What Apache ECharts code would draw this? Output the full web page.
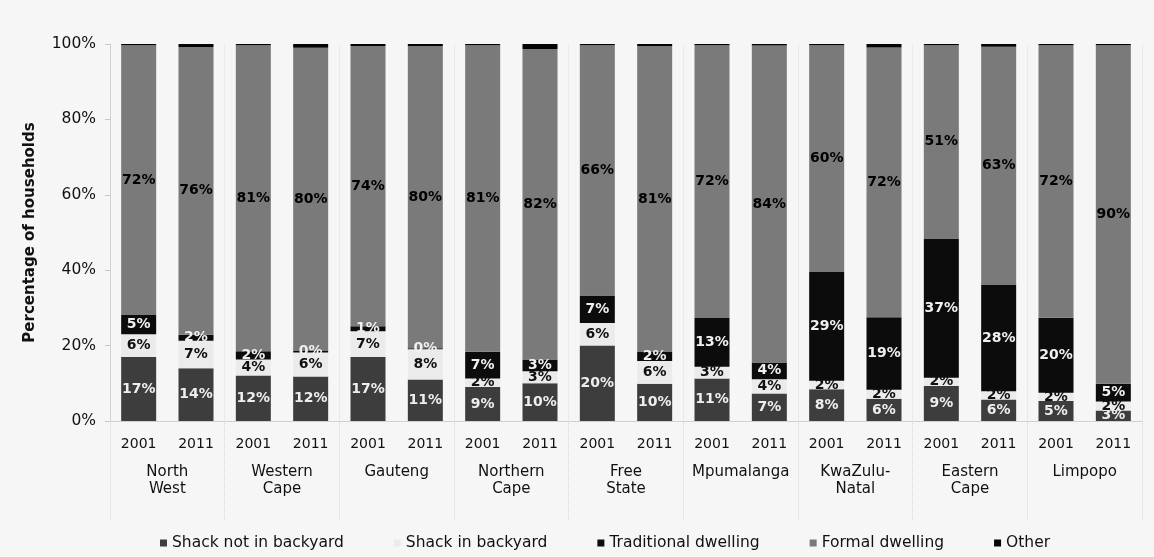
<!DOCTYPE html>
<html>
<head>
<meta charset="utf-8">
<script src="https://cdn.jsdelivr.net/npm/echarts@6/dist/echarts.min.js"></script>
<style>
html,body{margin:0;padding:0;background:#f6f6f6;}
#chart{width:1154px;height:557px;}
</style>
</head>
<body>
<div id="chart"></div>
<script>
var years = ['2001','2011','2001','2011','2001','2011','2001','2011','2001','2011','2001','2011','2001','2011','2001','2011','2001','2011'];
var provinces = ['North\nWest','Western\nCape','Gauteng','Northern\nCape','Free\nState','Mpumalanga','KwaZulu-\nNatal','Eastern\nCape','Limpopo'];
var yTicks = [0, 20, 40, 60, 80, 100];

var shackNotBackyard = [17.0, 14.0, 12.1, 11.8, 17.0, 11.0, 9.0, 10.0, 20.0, 9.9, 11.3, 7.3, 8.4, 5.9, 9.3, 5.7, 5.3, 2.8];
var shackBackyard    = [6.0, 7.3, 4.2, 6.4, 6.8, 8.0, 2.3, 3.2, 6.0, 6.0, 3.1, 3.8, 2.3, 2.4, 2.2, 2.2, 2.2, 2.4];
var traditional      = [5.1, 1.6, 2.2, 0.4, 1.3, 0.3, 7.1, 3.1, 7.3, 2.4, 12.9, 4.4, 28.8, 19.2, 36.9, 28.3, 19.9, 4.7];
var formal           = [71.6, 76.3, 81.2, 80.4, 74.4, 80.2, 81.3, 82.4, 66.4, 81.2, 72.4, 84.1, 60.2, 71.6, 51.3, 63.1, 72.3, 89.8];
var other            = [0.3, 0.8, 0.3, 1.0, 0.5, 0.5, 0.3, 1.3, 0.3, 0.5, 0.3, 0.4, 0.3, 0.9, 0.3, 0.7, 0.3, 0.3];

var FONT = 'DejaVu Sans';
function lbl(color){
  return {
    show: true, position: 'inside', color: color, fontFamily: FONT,
    fontSize: 14, fontWeight: 'bold',
    formatter: function(p){ return Math.round(p.value) + '%'; }
  };
}
function bar(name, data, color, labelColor){
  return {
    name: name, type: 'bar', stack: 'all', data: data, barWidth: 35,
    xAxisIndex: 0,
    itemStyle: {color: color},
    label: labelColor ? lbl(labelColor) : {show: false},
    emphasis: {disabled: true}
  };
}

var chart = echarts.init(document.getElementById('chart'), null, {renderer: 'canvas'});
chart.setOption({
  backgroundColor: '#f6f6f6',
  animation: false,
  grid: {left: 110, right: 12, top: 44, bottom: 136},
  legend: {
    top: 530, left: 155, itemWidth: 7, itemHeight: 7, itemGap: 50,
    icon: 'rect',
    textStyle: {fontFamily: FONT, fontSize: 15.5, color: '#111'},
    data: ['Shack not in backyard','Shack in backyard','Traditional dwelling','Formal dwelling','Other']
  },
  xAxis: [
    {
      type: 'category', data: years, position: 'bottom',
      axisLine: {show: true, lineStyle: {color: '#d0d0d0'}},
      axisTick: {show: false},
      axisLabel: {fontFamily: FONT, fontSize: 14, color: '#111', margin: 16, interval: 0}
    },
    {
      type: 'category', data: provinces, position: 'bottom',
      axisLine: {show: false},
      axisTick: {show: true, length: 100, interval: 0, lineStyle: {color: '#d6d6d6', type: 'dotted'}},
      splitLine: {show: true, interval: 0, lineStyle: {color: '#dedede', type: 'dotted'}},
      axisLabel: {fontFamily: FONT, fontSize: 15, color: '#111', margin: 43, interval: 0, lineHeight: 17}
    }
  ],
  yAxis: {
    type: 'value', min: 0, max: 100, interval: 20,
    name: 'Percentage of households', nameLocation: 'middle', nameGap: 72,
    nameTextStyle: {fontFamily: FONT, fontSize: 15, fontWeight: 'bold', color: '#111'},
    axisLine: {show: true, lineStyle: {color: '#d0d0d0'}},
    axisTick: {show: true, length: 5, lineStyle: {color: '#c8c8c8'}},
    splitLine: {show: false},
    axisLabel: {fontFamily: FONT, fontSize: 15.5, color: '#111', margin: 14,
      formatter: function(v){ return yTicks.indexOf(v) >= 0 ? v + '%' : ''; }}
  },
  series: [
    bar('Shack not in backyard', shackNotBackyard, '#3d3d3d', '#eeeeee'),
    bar('Shack in backyard', shackBackyard, '#ebebeb', '#111111'),
    bar('Traditional dwelling', traditional, '#0c0c0c', '#f0f0f0'),
    bar('Formal dwelling', formal, '#7a7a7a', '#000000'),
    bar('Other', other, '#050505', null)
  ]
});
</script>
</body>
</html>
